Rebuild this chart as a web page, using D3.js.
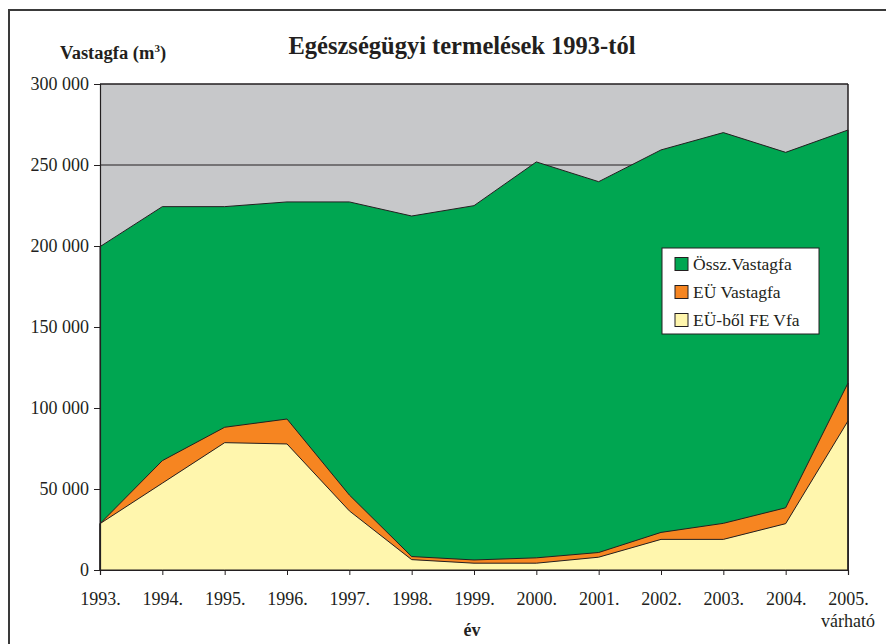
<!DOCTYPE html>
<html>
<head>
<meta charset="utf-8">
<script src="https://cdn.jsdelivr.net/npm/d3@7"></script>
<style>
  body { margin: 0; background: #fff; }
</style>
</head>
<body>
<script>
// évek (x tengely)
var years = ["1993.", "1994.", "1995.", "1996.", "1997.", "1998.", "1999.",
             "2000.", "2001.", "2002.", "2003.", "2004.", "2005."];
// Össz. Vastagfa (m3)
var osszVastagfa = [199600, 224300, 224300, 227200, 227200, 218500, 224900,
                    251900, 239700, 259300, 270000, 257800, 271600];
// EÜ Vastagfa
var euVastagfa = [28600, 67500, 88100, 93200, 46300, 8300, 6200,
                  7500, 10800, 23200, 28800, 38400, 115400];
// EÜ-ből FE Vfa
var euFeVfa = [28600, 53600, 78600, 77800, 36500, 6400, 4200,
               4200, 7900, 18900, 18900, 28600, 92000];
var yTicks = [0, 50000, 100000, 150000, 200000, 250000, 300000];

var series = [
  { name: "Össz.Vastagfa", values: osszVastagfa, color: "#00a651" },
  { name: "EÜ Vastagfa",   values: euVastagfa,   color: "#f68521" },
  { name: "EÜ-ből FE Vfa", values: euFeVfa,      color: "#fff6ad" }
];

var width = 886, height = 644;
var x0 = 100, x1 = 848, yTop = 84, yBottom = 570;
var ink = "#231f20";
var SERIF = "'Liberation Serif', 'Times New Roman', 'DejaVu Serif', serif";

var svg = d3.select("body").append("svg")
  .attr("width", width)
  .attr("height", height);

// külső keret
svg.append("path")
  .attr("d", "M9," + height + "V10H" + width)
  .attr("fill", "none")
  .attr("stroke", "#3a3a3a")
  .attr("stroke-width", 2);

var x = d3.scalePoint().domain(years).range([x0, x1]);
var y = d3.scaleLinear().domain([0, 300000]).range([yBottom, yTop]);

// plot háttér
svg.append("rect")
  .attr("x", x0).attr("y", yTop)
  .attr("width", x1 - x0).attr("height", yBottom - yTop)
  .attr("fill", "#c7c8ca");

// rácsvonalak
svg.append("g").selectAll("line")
  .data(yTicks.filter(function(d){ return d > 0; }))
  .join("line")
  .attr("x1", x0).attr("x2", x1)
  .attr("y1", function(d){ return y(d); })
  .attr("y2", function(d){ return y(d); })
  .attr("stroke", ink).attr("stroke-width", 1);

// területek (egymásra rajzolva)
series.forEach(function(s){
  var area = d3.area()
    .x(function(d, i){ return x(years[i]); })
    .y0(y(0))
    .y1(function(d){ return y(d); });
  svg.append("path")
    .datum(s.values)
    .attr("d", area)
    .attr("fill", s.color)
    .attr("stroke", ink)
    .attr("stroke-width", 1)
    .attr("stroke-linejoin", "round");
});

// jobb oldali keret
svg.append("line")
  .attr("x1", x1).attr("x2", x1).attr("y1", yTop).attr("y2", yBottom)
  .attr("stroke", ink).attr("stroke-width", 1.5);
svg.append("line")
  .attr("x1", x0).attr("x2", x1).attr("y1", yTop).attr("y2", yTop)
  .attr("stroke", ink).attr("stroke-width", 1.2);

// tengelyek
var fmt = function(d){ return d3.format(",")(d).replace(/,/g, " "); };

var yAxis = svg.append("g")
  .attr("transform", "translate(" + x0 + ",0)")
  .call(d3.axisLeft(y).tickValues(yTicks).tickFormat(fmt).tickSize(6).tickPadding(5));
yAxis.selectAll("text").attr("font-size", 18);

var xAxis = svg.append("g")
  .attr("transform", "translate(0," + yBottom + ")")
  .call(d3.axisBottom(x).tickSize(5).tickPadding(17));
xAxis.selectAll("text").attr("font-size", 18);

svg.selectAll(".domain").attr("stroke", ink).attr("stroke-width", 1.2);
svg.selectAll(".tick line").attr("stroke", ink);

// feliratok
svg.append("text")
  .attr("x", 462).attr("y", 54)
  .attr("text-anchor", "middle")
  .attr("font-size", 24.5).attr("font-weight", "bold")
  .text("Egészségügyi termelések 1993-tól");

var yl = svg.append("text")
  .attr("x", 60).attr("y", 59)
  .attr("font-size", 18.5).attr("font-weight", "bold");
yl.append("tspan").text("Vastagfa (m");
yl.append("tspan").attr("font-size", 11).attr("dy", -7).text("3");
yl.append("tspan").attr("dy", 7).text(")");

svg.append("text")
  .attr("x", x(years[years.length - 1])).attr("y", 627)
  .attr("text-anchor", "middle")
  .attr("font-size", 18)
  .text("várható");

svg.append("text")
  .attr("x", 472).attr("y", 636)
  .attr("text-anchor", "middle")
  .attr("font-size", 18).attr("font-weight", "bold")
  .text("év");

// jelmagyarázat
var legend = svg.append("g").attr("transform", "translate(662,248)");
legend.append("rect")
  .attr("width", 157).attr("height", 86)
  .attr("fill", "#fff").attr("stroke", ink).attr("stroke-width", 1);
var rows = legend.selectAll("g.row")
  .data(series)
  .join("g")
  .attr("class", "row")
  .attr("transform", function(d, i){ return "translate(13," + (16 + i * 28) + ")"; });
rows.append("rect")
  .attr("x", 0).attr("y", -6.5)
  .attr("width", 13).attr("height", 13)
  .attr("fill", function(d){ return d.color; })
  .attr("stroke", ink).attr("stroke-width", 1);
rows.append("text")
  .attr("x", 18).attr("y", 6)
  .attr("font-size", 17.5)
  .text(function(d){ return d.name; });

// minden szöveg serif betűvel
svg.selectAll("text")
  .style("font-family", SERIF)
  .style("fill", ink);
</script>
</body>
</html>
